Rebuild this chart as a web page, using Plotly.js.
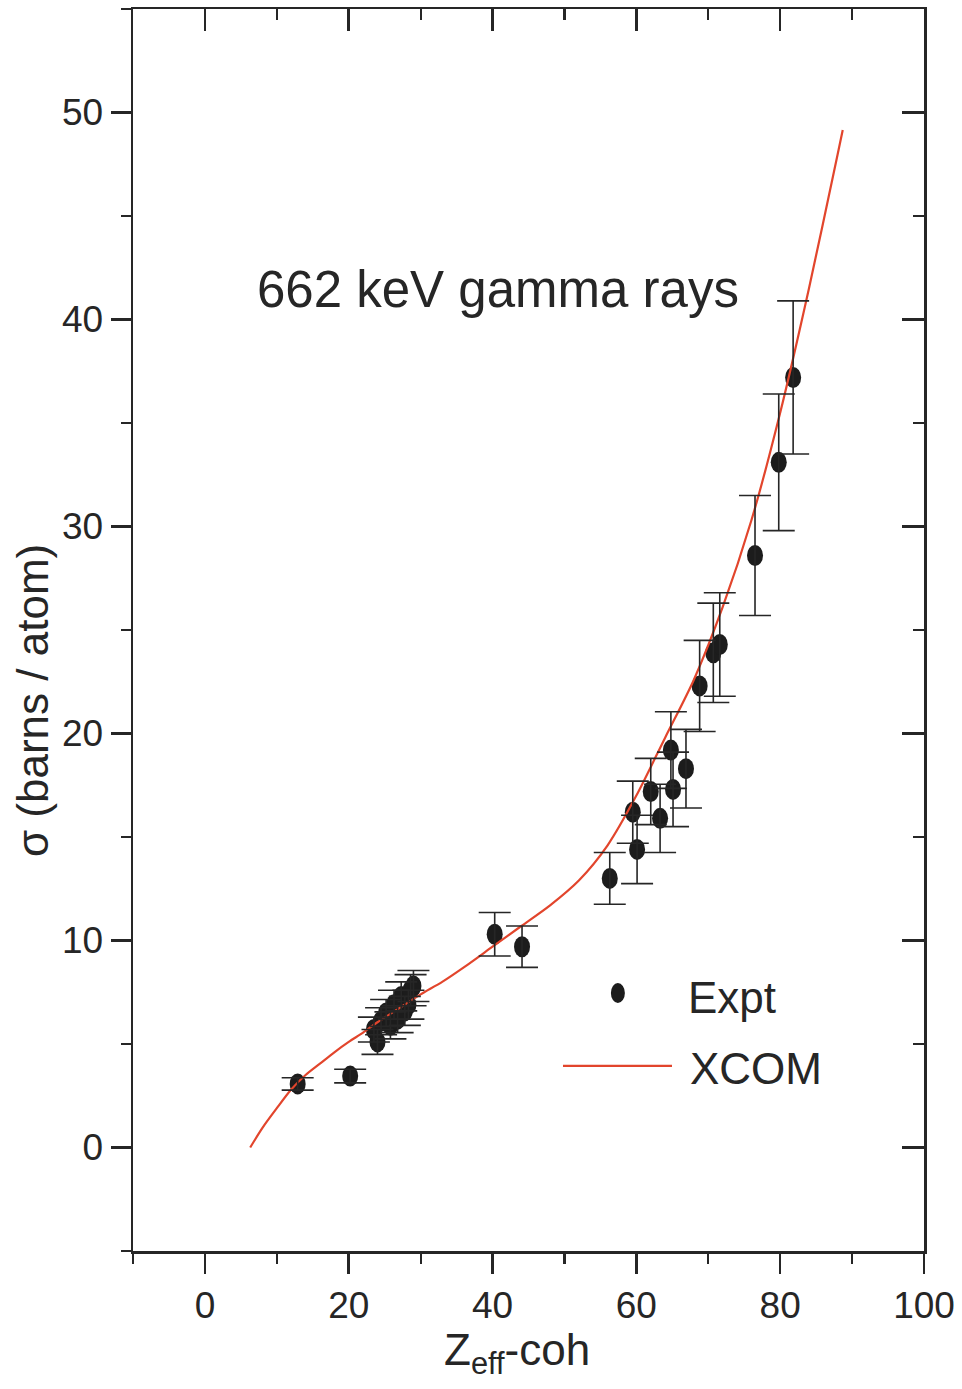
<!DOCTYPE html>
<html>
<head>
<meta charset="utf-8">
<script src="https://cdn.plot.ly/plotly-3.0.1.min.js"></script>
<style>
  html, body { margin: 0; padding: 0; background: #ffffff; }
  #chart { width: 962px; height: 1389px; }
</style>
</head>
<body>
<div id="chart"></div>
<script>
// Measured total cross sections (barns/atom) against effective Z
const zExpt = [12.9, 20.2, 23.5, 24.0, 24.5, 25.2, 25.8, 26.3, 26.8, 27.3, 27.8, 28.3, 28.6, 29.0,
               40.3, 44.1, 56.3, 59.5, 60.1, 62.0, 63.3, 64.8, 65.1, 66.9, 68.8, 70.7, 71.6,
               76.5, 79.8, 81.8];
const sigmaExpt = [3.07, 3.45, 5.7, 5.1, 6.1, 6.5, 5.9, 6.9, 6.2, 7.3, 6.6, 6.9, 7.6, 7.8,
                   10.3, 9.7, 13.0, 16.2, 14.4, 17.2, 15.9, 19.2, 17.3, 18.3, 22.3, 23.9, 24.3,
                   28.6, 33.1, 37.2];
const sigmaErr = [0.3, 0.33, 0.6, 0.6, 0.65, 0.65, 0.65, 0.7, 0.65, 0.7, 0.7, 0.7, 0.75, 0.75,
                  1.05, 1.0, 1.25, 1.5, 1.65, 1.6, 1.65, 1.85, 1.8, 1.9, 2.2, 2.4, 2.5,
                  2.9, 3.3, 3.7];

// XCOM theoretical curve
const zXcom = [6.3, 8, 10, 12, 14, 16, 18, 20, 22, 24, 26, 28, 30, 33, 36, 40, 44, 48,
               52, 56, 60, 64, 68, 72, 76, 80, 84, 88, 88.7];
const sigmaXcom = [0, 0.95, 1.9, 2.8, 3.5, 4.05, 4.6, 5.1, 5.55, 6.05, 6.5, 6.95, 7.4, 8.0,
                   8.7, 9.7, 10.7, 11.7, 12.9, 14.6, 17.0, 19.8, 22.6, 26.1, 30.3, 35.5, 41.5,
                   48.0, 49.15];

// Axis ticks
const xTicks = [0, 20, 40, 60, 80, 100];
const yTicks = [0, 10, 20, 30, 40, 50];

const ink = '#262626';
const face = '"Liberation Sans", Arial, sans-serif';

const traces = [
  {
    x: zXcom, y: sigmaXcom, type: 'scatter', mode: 'lines',
    line: { color: '#e2452c', width: 2.2, shape: 'spline', smoothing: 0.8 },
    hoverinfo: 'skip', showlegend: false
  },
  {
    x: zExpt, y: sigmaExpt, type: 'scatter', mode: 'markers',
    marker: { size: 1, color: ink, opacity: 0 },
    error_y: { type: 'data', array: sigmaErr, visible: true, color: ink, thickness: 1.6, width: 16 },
    showlegend: false
  },
  { x: [], y: [], xaxis: 'x2', yaxis: 'y2', type: 'scatter', showlegend: false }
];

// Elliptical dots for the measured points, anchored in data space
const dotShapes = zExpt.map((z, i) => ({
  type: 'circle', xref: 'x', yref: 'y',
  xsizemode: 'pixel', ysizemode: 'pixel',
  xanchor: z, yanchor: sigmaExpt[i],
  x0: -8, x1: 8, y0: -10.5, y1: 10.5,
  fillcolor: '#1c1c1c', line: { width: 0 }, layer: 'below'
}));

// Legend drawn by hand: dot and line sample
const legendShapes = [
  {
    type: 'circle', xref: 'paper', yref: 'paper',
    xsizemode: 'pixel', ysizemode: 'pixel', xanchor: 0.613, yanchor: 0.2077,
    x0: -7, x1: 7, y0: -10, y1: 10,
    fillcolor: '#1c1c1c', line: { width: 0 }
  },
  {
    type: 'line', xref: 'paper', yref: 'paper',
    x0: 0.5436, x1: 0.6814, y0: 0.149, y1: 0.149,
    line: { color: '#e2452c', width: 2.2 }
  }
];

const baseAxis = {
  showgrid: false, zeroline: false, showline: true,
  linecolor: ink, linewidth: 2.5, tickcolor: ink, tickwidth: 2.5
};

const layout = {
  width: 962, height: 1389,
  paper_bgcolor: '#ffffff', plot_bgcolor: '#ffffff',
  margin: { l: 133, r: 38, t: 9, b: 138 },
  showlegend: false,
  xaxis: Object.assign({}, baseAxis, {
    range: [-10, 100], tickvals: xTicks, ticktext: xTicks.map(String),
    ticks: 'outside', ticklen: 20,
    minor: { dtick: 10, tick0: 0, ticks: 'outside', ticklen: 10, tickwidth: 2.2, tickcolor: ink },
    tickfont: { family: face, size: 37, color: ink }
  }),
  yaxis: Object.assign({}, baseAxis, {
    range: [-5, 55], tickvals: yTicks, ticktext: yTicks.map(String),
    ticks: 'outside', ticklen: 20,
    minor: { dtick: 5, tick0: 0, ticks: 'outside', ticklen: 10, tickwidth: 2.2, tickcolor: ink },
    tickfont: { family: face, size: 37, color: ink }
  }),
  xaxis2: Object.assign({}, baseAxis, {
    overlaying: 'x', side: 'top', range: [-10, 100], tickvals: xTicks,
    ticks: 'inside', ticklen: 22, showticklabels: false,
    minor: { dtick: 10, tick0: 0, ticks: 'inside', ticklen: 11, tickwidth: 2.2, tickcolor: ink }
  }),
  yaxis2: Object.assign({}, baseAxis, {
    overlaying: 'y', side: 'right', range: [-5, 55], tickvals: yTicks,
    ticks: 'inside', ticklen: 22, showticklabels: false,
    minor: { dtick: 5, tick0: 0, ticks: 'inside', ticklen: 11, tickwidth: 2.2, tickcolor: ink }
  }),
  shapes: dotShapes.concat(legendShapes),
  annotations: [
    {
      text: '662 keV gamma rays', xref: 'paper', yref: 'paper', x: 0.4614, y: 0.7738,
      xanchor: 'center', yanchor: 'middle', showarrow: false,
      font: { family: face, size: 51, color: ink }
    },
    {
      text: 'Expt', xref: 'paper', yref: 'paper', x: 0.699, y: 0.2045,
      xanchor: 'left', yanchor: 'middle', showarrow: false,
      font: { family: face, size: 44, color: ink }
    },
    {
      text: 'XCOM', xref: 'paper', yref: 'paper', x: 0.7016, y: 0.1473,
      xanchor: 'left', yanchor: 'middle', showarrow: false,
      font: { family: face, size: 44, color: ink }
    },
    {
      text: 'Z<sub>eff</sub>-coh', xref: 'paper', yref: 'paper', x: 0.4855, y: -0.082,
      xanchor: 'center', yanchor: 'middle', showarrow: false,
      font: { family: face, size: 44, color: ink }
    },
    {
      text: 'σ (barns / atom)', xref: 'paper', yref: 'paper', x: -0.1277, y: 0.4436,
      xanchor: 'center', yanchor: 'middle', showarrow: false, textangle: -90,
      font: { family: face, size: 44, color: ink }
    }
  ]
};

Plotly.newPlot('chart', traces, layout, { displayModeBar: false, staticPlot: true });
</script>
</body>
</html>
